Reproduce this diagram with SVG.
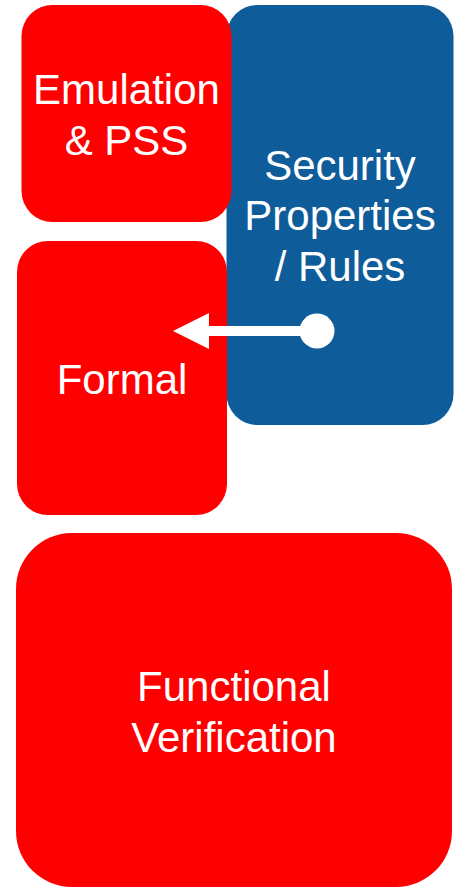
<svg xmlns="http://www.w3.org/2000/svg" width="459" height="887" viewBox="0 0 459 887">
  <style>
    .red { fill: #FF0000; }
    .blue { fill: #0F5C9B; }
    .label { fill: #FFFFFF; font-family: "Liberation Sans", Arial, sans-serif; font-size: 42px; text-anchor: middle; }
    .link { stroke: #FFFFFF; stroke-width: 10; fill: none; }
    .tip { fill: #FFFFFF; }
  </style>

  <g id="node-security">
    <rect class="blue" x="226.5" y="5" width="227" height="420" rx="31" ry="31"/>
    <text class="label" x="340" y="180">Security</text>
    <text class="label" x="340" y="230">Properties</text>
    <text class="label" x="340" y="281">/ Rules</text>
  </g>

  <g id="node-emulation">
    <rect class="red" x="21.5" y="5" width="210" height="217" rx="31" ry="31"/>
    <text class="label" x="126.5" y="104">Emulation</text>
    <text class="label" x="126.5" y="155">&amp; PSS</text>
  </g>

  <g id="node-formal">
    <rect class="red" x="17" y="241" width="210" height="274" rx="31" ry="31"/>
    <text class="label" x="122" y="394">Formal</text>
  </g>

  <g id="node-functional">
    <rect class="red" x="16" y="533" width="436" height="354" rx="56" ry="56"/>
    <text class="label" x="234" y="701">Functional</text>
    <text class="label" x="234" y="752">Verification</text>
  </g>

  <!-- rule link: dot on Security, arrow into Formal -->
  <g id="connectors">
    <line class="link" x1="317" y1="331" x2="209" y2="331"/>
    <path class="tip" d="M209,313 L173,331 L209,349 Z"/>
    <circle class="tip" cx="317" cy="331" r="17.5"/>
  </g>
</svg>
